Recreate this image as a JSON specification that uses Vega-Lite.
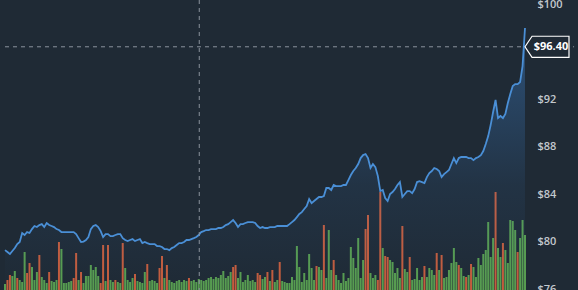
{
  "$schema": "https://vega.github.io/schema/vega-lite/v6.json",
  "width": 530,
  "height": 290,
  "autosize": {"type": "none"},
  "padding": {"left": 0, "top": 0, "right": 48, "bottom": 0},
  "background": "#1f2a35",
  "config": {"view": {"stroke": null}, "font": "Open Sans"},
  "datasets": {"prices": [
{"t":0,"close":79.28,"volume":6,"dir":"up"},{"t":1,"close":79.12,"volume":10,"dir":"down"},{"t":2,"close":78.95,"volume":15,"dir":"down"},{"t":3,"close":79.20,"volume":14,"dir":"up"},{"t":4,"close":79.45,"volume":19,"dir":"up"},{"t":5,"close":79.79,"volume":12,"dir":"down"},{"t":6,"close":79.96,"volume":10,"dir":"up"},{"t":7,"close":80.72,"volume":8,"dir":"up"},{"t":8,"close":80.55,"volume":38,"dir":"up"},{"t":9,"close":80.80,"volume":17,"dir":"down"},
{"t":10,"close":80.72,"volume":27,"dir":"down"},{"t":11,"close":81.05,"volume":23,"dir":"up"},{"t":12,"close":81.31,"volume":10,"dir":"up"},{"t":13,"close":81.22,"volume":18,"dir":"up"},{"t":14,"close":81.39,"volume":35,"dir":"down"},{"t":15,"close":81.47,"volume":13,"dir":"up"},{"t":16,"close":81.22,"volume":10,"dir":"up"},{"t":17,"close":81.56,"volume":7,"dir":"up"},{"t":18,"close":81.39,"volume":18,"dir":"down"},{"t":19,"close":81.31,"volume":9,"dir":"up"},
{"t":20,"close":81.22,"volume":8,"dir":"up"},{"t":21,"close":81.05,"volume":10,"dir":"up"},{"t":22,"close":80.97,"volume":48,"dir":"down"},{"t":23,"close":80.80,"volume":41,"dir":"up"},{"t":24,"close":80.80,"volume":7,"dir":"up"},{"t":25,"close":80.80,"volume":7,"dir":"up"},{"t":26,"close":80.80,"volume":8,"dir":"up"},{"t":27,"close":80.80,"volume":9,"dir":"up"},{"t":28,"close":80.80,"volume":12,"dir":"down"},{"t":29,"close":80.63,"volume":37,"dir":"down"},
{"t":30,"close":80.29,"volume":10,"dir":"up"},{"t":31,"close":79.96,"volume":18,"dir":"down"},{"t":32,"close":80.00,"volume":7,"dir":"up"},{"t":33,"close":80.13,"volume":14,"dir":"up"},{"t":34,"close":80.38,"volume":14,"dir":"up"},{"t":35,"close":81.05,"volume":25,"dir":"up"},{"t":36,"close":81.31,"volume":20,"dir":"up"},{"t":37,"close":81.39,"volume":23,"dir":"up"},{"t":38,"close":81.22,"volume":14,"dir":"up"},{"t":39,"close":80.88,"volume":7,"dir":"down"},
{"t":40,"close":80.38,"volume":45,"dir":"down"},{"t":41,"close":80.63,"volume":9,"dir":"up"},{"t":42,"close":80.63,"volume":45,"dir":"down"},{"t":43,"close":80.46,"volume":10,"dir":"up"},{"t":44,"close":80.46,"volume":8,"dir":"up"},{"t":45,"close":80.55,"volume":10,"dir":"down"},{"t":46,"close":80.63,"volume":8,"dir":"up"},{"t":47,"close":80.63,"volume":7,"dir":"up"},{"t":48,"close":80.29,"volume":47,"dir":"down"},{"t":49,"close":80.13,"volume":22,"dir":"up"},
{"t":50,"close":80.04,"volume":10,"dir":"up"},{"t":51,"close":80.13,"volume":8,"dir":"up"},{"t":52,"close":80.21,"volume":12,"dir":"up"},{"t":53,"close":80.04,"volume":16,"dir":"down"},{"t":54,"close":80.13,"volume":9,"dir":"up"},{"t":55,"close":80.21,"volume":8,"dir":"up"},{"t":56,"close":79.87,"volume":7,"dir":"up"},{"t":57,"close":79.96,"volume":18,"dir":"up"},{"t":58,"close":79.87,"volume":26,"dir":"down"},{"t":59,"close":79.79,"volume":9,"dir":"up"},
{"t":60,"close":79.79,"volume":10,"dir":"up"},{"t":61,"close":79.79,"volume":9,"dir":"up"},{"t":62,"close":79.62,"volume":7,"dir":"up"},{"t":63,"close":79.62,"volume":22,"dir":"down"},{"t":64,"close":79.54,"volume":34,"dir":"down"},{"t":65,"close":79.37,"volume":12,"dir":"up"},{"t":66,"close":79.37,"volume":25,"dir":"down"},{"t":67,"close":79.28,"volume":10,"dir":"up"},{"t":68,"close":79.45,"volume":8,"dir":"up"},{"t":69,"close":79.54,"volume":7,"dir":"up"},
{"t":70,"close":79.71,"volume":9,"dir":"up"},{"t":71,"close":79.87,"volume":10,"dir":"up"},{"t":72,"close":79.87,"volume":8,"dir":"up"},{"t":73,"close":79.96,"volume":10,"dir":"up"},{"t":74,"close":80.13,"volume":9,"dir":"up"},{"t":75,"close":80.13,"volume":12,"dir":"down"},{"t":76,"close":80.21,"volume":9,"dir":"up"},{"t":77,"close":80.29,"volume":10,"dir":"up"},{"t":78,"close":80.38,"volume":8,"dir":"up"},{"t":79,"close":80.55,"volume":11,"dir":"up"},
{"t":80,"close":80.80,"volume":10,"dir":"up"},{"t":81,"close":80.88,"volume":9,"dir":"up"},{"t":82,"close":80.97,"volume":10,"dir":"up"},{"t":83,"close":80.97,"volume":12,"dir":"up"},{"t":84,"close":81.05,"volume":13,"dir":"up"},{"t":85,"close":81.05,"volume":11,"dir":"up"},{"t":86,"close":81.05,"volume":13,"dir":"up"},{"t":87,"close":81.14,"volume":12,"dir":"up"},{"t":88,"close":81.14,"volume":15,"dir":"up"},{"t":89,"close":81.22,"volume":19,"dir":"up"},
{"t":90,"close":81.39,"volume":12,"dir":"up"},{"t":91,"close":81.47,"volume":14,"dir":"up"},{"t":92,"close":81.64,"volume":18,"dir":"up"},{"t":93,"close":81.81,"volume":23,"dir":"down"},{"t":94,"close":81.56,"volume":25,"dir":"down"},{"t":95,"close":81.22,"volume":12,"dir":"up"},{"t":96,"close":81.47,"volume":18,"dir":"up"},{"t":97,"close":81.47,"volume":8,"dir":"up"},{"t":98,"close":81.56,"volume":10,"dir":"up"},{"t":99,"close":81.64,"volume":15,"dir":"up"},
{"t":100,"close":81.64,"volume":9,"dir":"up"},{"t":101,"close":81.64,"volume":10,"dir":"up"},{"t":102,"close":81.56,"volume":8,"dir":"up"},{"t":103,"close":81.31,"volume":17,"dir":"down"},{"t":104,"close":81.14,"volume":15,"dir":"down"},{"t":105,"close":81.22,"volume":11,"dir":"up"},{"t":106,"close":81.14,"volume":13,"dir":"up"},{"t":107,"close":81.14,"volume":18,"dir":"down"},{"t":108,"close":81.22,"volume":9,"dir":"up"},{"t":109,"close":81.22,"volume":20,"dir":"down"},
{"t":110,"close":81.22,"volume":8,"dir":"up"},{"t":111,"close":81.31,"volume":10,"dir":"up"},{"t":112,"close":81.31,"volume":28,"dir":"down"},{"t":113,"close":81.31,"volume":9,"dir":"up"},{"t":114,"close":81.31,"volume":8,"dir":"up"},{"t":115,"close":81.31,"volume":7,"dir":"up"},{"t":116,"close":81.47,"volume":7,"dir":"up"},{"t":117,"close":81.64,"volume":13,"dir":"up"},{"t":118,"close":81.81,"volume":10,"dir":"up"},{"t":119,"close":82.06,"volume":44,"dir":"up"},
{"t":120,"close":82.32,"volume":23,"dir":"up"},{"t":121,"close":82.48,"volume":8,"dir":"up"},{"t":122,"close":82.74,"volume":17,"dir":"up"},{"t":123,"close":82.99,"volume":10,"dir":"up"},{"t":124,"close":83.58,"volume":36,"dir":"up"},{"t":125,"close":83.24,"volume":22,"dir":"up"},{"t":126,"close":83.41,"volume":10,"dir":"up"},{"t":127,"close":83.58,"volume":24,"dir":"down"},{"t":128,"close":83.75,"volume":23,"dir":"up"},{"t":129,"close":83.75,"volume":20,"dir":"up"},
{"t":130,"close":83.83,"volume":65,"dir":"down"},{"t":131,"close":84.51,"volume":12,"dir":"up"},{"t":132,"close":84.51,"volume":60,"dir":"up"},{"t":133,"close":84.34,"volume":20,"dir":"up"},{"t":134,"close":84.76,"volume":30,"dir":"down"},{"t":135,"close":84.67,"volume":15,"dir":"up"},{"t":136,"close":84.67,"volume":10,"dir":"up"},{"t":137,"close":84.67,"volume":7,"dir":"up"},{"t":138,"close":84.76,"volume":17,"dir":"up"},{"t":139,"close":84.76,"volume":9,"dir":"up"},
{"t":140,"close":85.18,"volume":12,"dir":"up"},{"t":141,"close":85.60,"volume":43,"dir":"up"},{"t":142,"close":85.94,"volume":32,"dir":"up"},{"t":143,"close":86.19,"volume":22,"dir":"up"},{"t":144,"close":86.53,"volume":52,"dir":"up"},{"t":145,"close":87.03,"volume":12,"dir":"up"},{"t":146,"close":87.28,"volume":30,"dir":"up"},{"t":147,"close":87.37,"volume":61,"dir":"down"},{"t":148,"close":87.03,"volume":75,"dir":"down"},{"t":149,"close":86.19,"volume":17,"dir":"up"},
{"t":150,"close":86.53,"volume":12,"dir":"up"},{"t":151,"close":86.27,"volume":15,"dir":"up"},{"t":152,"close":85.52,"volume":10,"dir":"down"},{"t":153,"close":84.25,"volume":98,"dir":"down"},{"t":154,"close":84.34,"volume":42,"dir":"up"},{"t":155,"close":83.66,"volume":34,"dir":"down"},{"t":156,"close":83.41,"volume":33,"dir":"down"},{"t":157,"close":84.00,"volume":30,"dir":"up"},{"t":158,"close":84.17,"volume":28,"dir":"up"},{"t":159,"close":84.42,"volume":17,"dir":"up"},
{"t":160,"close":84.76,"volume":22,"dir":"up"},{"t":161,"close":85.01,"volume":12,"dir":"up"},{"t":162,"close":83.75,"volume":64,"dir":"down"},{"t":163,"close":84.00,"volume":21,"dir":"up"},{"t":164,"close":84.25,"volume":18,"dir":"up"},{"t":165,"close":84.25,"volume":33,"dir":"down"},{"t":166,"close":84.08,"volume":10,"dir":"up"},{"t":167,"close":84.42,"volume":11,"dir":"up"},{"t":168,"close":85.01,"volume":22,"dir":"up"},{"t":169,"close":85.09,"volume":10,"dir":"up"},
{"t":170,"close":85.01,"volume":13,"dir":"up"},{"t":171,"close":84.93,"volume":24,"dir":"down"},{"t":172,"close":85.43,"volume":13,"dir":"up"},{"t":173,"close":85.77,"volume":22,"dir":"up"},{"t":174,"close":85.94,"volume":20,"dir":"up"},{"t":175,"close":86.19,"volume":15,"dir":"up"},{"t":176,"close":86.11,"volume":37,"dir":"down"},{"t":177,"close":85.94,"volume":20,"dir":"up"},{"t":178,"close":85.43,"volume":35,"dir":"down"},{"t":179,"close":85.68,"volume":12,"dir":"up"},
{"t":180,"close":85.85,"volume":13,"dir":"up"},{"t":181,"close":86.02,"volume":20,"dir":"up"},{"t":182,"close":86.53,"volume":27,"dir":"up"},{"t":183,"close":87.03,"volume":42,"dir":"up"},{"t":184,"close":86.61,"volume":28,"dir":"up"},{"t":185,"close":87.03,"volume":25,"dir":"down"},{"t":186,"close":87.12,"volume":22,"dir":"up"},{"t":187,"close":87.12,"volume":14,"dir":"up"},{"t":188,"close":87.12,"volume":13,"dir":"down"},{"t":189,"close":87.03,"volume":15,"dir":"up"},
{"t":190,"close":87.03,"volume":26,"dir":"down"},{"t":191,"close":86.86,"volume":23,"dir":"up"},{"t":192,"close":87.03,"volume":13,"dir":"up"},{"t":193,"close":87.12,"volume":32,"dir":"up"},{"t":194,"close":87.28,"volume":25,"dir":"up"},{"t":195,"close":87.62,"volume":36,"dir":"up"},{"t":196,"close":88.21,"volume":40,"dir":"up"},{"t":197,"close":88.88,"volume":68,"dir":"up"},{"t":198,"close":89.81,"volume":33,"dir":"up"},{"t":199,"close":90.91,"volume":52,"dir":"up"},
{"t":200,"close":91.92,"volume":98,"dir":"down"},{"t":201,"close":90.40,"volume":42,"dir":"up"},{"t":202,"close":90.57,"volume":33,"dir":"up"},{"t":203,"close":90.40,"volume":47,"dir":"down"},{"t":204,"close":90.74,"volume":40,"dir":"up"},{"t":205,"close":91.66,"volume":27,"dir":"up"},{"t":206,"close":92.42,"volume":70,"dir":"up"},{"t":207,"close":93.09,"volume":69,"dir":"up"},{"t":208,"close":93.26,"volume":60,"dir":"up"},{"t":209,"close":93.26,"volume":38,"dir":"down"},
{"t":210,"close":93.43,"volume":52,"dir":"up"},{"t":211,"close":94.78,"volume":70,"dir":"up"},{"t":212,"close":97.98,"volume":55,"dir":"up"}
  ],
  "crosshair": [{"t": 79.2, "price": 96.4, "last": 212, "label": "$96.40", "x0": 0, "x1": 232}]},
  "layer": [
    {
      "data": {"name": "prices"},
      "mark": {"type": "bar", "width": 2, "opacity": 0.85},
      "encoding": {
        "x": {"field": "t", "type": "quantitative", "scale": {"domain": [0, 212], "nice": false, "zero": false}, "axis": null},
        "y": {"field": "volume", "type": "quantitative", "scale": {"domain": [0, 290], "nice": false}, "axis": null},
        "color": {"field": "dir", "type": "nominal", "scale": {"domain": ["up", "down"], "range": ["#62b055", "#e0653e"]}, "legend": null}
      }
    },
    {
      "layer": [
        {
          "data": {"name": "prices"},
          "mark": {"type": "area", "color": {"gradient": "linear", "x1": 0, "y1": 0, "x2": 0, "y2": 1, "stops": [{"offset": 0, "color": "rgba(62,130,205,0.45)"}, {"offset": 0.6, "color": "rgba(62,130,205,0.1)"}, {"offset": 1, "color": "rgba(62,130,205,0)"}]}},
          "encoding": {
            "x": {"field": "t", "type": "quantitative", "scale": {"domain": [0, 212], "nice": false, "zero": false}, "axis": null},
            "y": {"field": "close", "type": "quantitative", "scale": {"domain": [75.92, 100.34], "nice": false, "zero": false},
              "axis": {"orient": "right", "values": [76, 80, 84, 88, 92, 100], "labelExpr": "'$' + datum.value", "ticks": false, "domain": false, "grid": false, "labelColor": "#c3c8cd", "labelFontSize": 11, "labelFontWeight": 600, "labelPadding": 7, "labelFont": "Open Sans", "labelFlush": false, "labelOverlap": false, "labelBound": false, "title": null}},
            "y2": {"datum": 75.92}
          }
        },
        {
          "data": {"name": "prices"},
          "mark": {"type": "line", "color": "#4a8fd6", "strokeWidth": 1.8},
          "encoding": {
            "x": {"field": "t", "type": "quantitative"},
            "y": {"field": "close", "type": "quantitative"}
          }
        },
        {
          "data": {"name": "crosshair"},
          "mark": {"type": "rule", "color": "#8a939c", "strokeDash": [4, 4], "strokeWidth": 1},
          "encoding": {"x": {"field": "t", "type": "quantitative"}}
        },
        {
          "data": {"name": "crosshair"},
          "mark": {"type": "rule", "color": "#8a939c", "strokeDash": [4, 4], "strokeWidth": 1},
          "encoding": {
            "y": {"field": "price", "type": "quantitative"},
            "x": {"field": "x0", "type": "quantitative"},
            "x2": {"field": "x1"}
          }
        },
        {
          "data": {"name": "crosshair"},
          "mark": {"type": "point", "shape": "M -1 0 L -0.68 -0.48 L 1 -0.48 L 1 0.48 L -0.68 0.48 Z", "size": 1936, "filled": true, "fill": "#1f2a35", "stroke": "#ffffff", "strokeWidth": 1.2, "opacity": 1, "xOffset": 22},
          "encoding": {
            "x": {"field": "last", "type": "quantitative"},
            "y": {"field": "price", "type": "quantitative"}
          }
        },
        {
          "data": {"name": "crosshair"},
          "mark": {"type": "text", "dx": 26, "fontSize": 11, "fontWeight": "bold", "font": "Open Sans", "color": "#ffffff", "align": "center", "baseline": "middle"},
          "encoding": {
            "x": {"field": "last", "type": "quantitative"},
            "y": {"field": "price", "type": "quantitative"},
            "text": {"field": "label"}
          }
        }
      ]
    }
  ],
  "resolve": {"scale": {"y": "independent"}}
}
